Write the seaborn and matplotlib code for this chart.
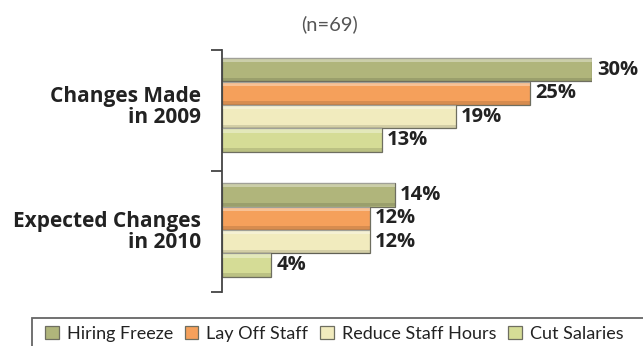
import matplotlib
matplotlib.use("Agg")
import matplotlib.pyplot as plt
from matplotlib.patches import Patch, Rectangle
import seaborn as sns
import pandas as pd

# Survey data (percent of respondents, n=69)
periods = ["Changes Made\nin 2009", "Expected Changes\nin 2010"]
actions = ["Hiring Freeze", "Lay Off Staff", "Reduce Staff Hours", "Cut Salaries"]
made_2009 = [30, 25, 19, 13]
expected_2010 = [14, 12, 12, 4]
colors = ["#B0B57B", "#F5A05B", "#F1EBBE", "#D5DC96"]

rows = []
for period, values in zip(periods, [made_2009, expected_2010]):
    for action, v in zip(actions, values):
        rows.append({"period": period, "action": action, "pct": v})
df = pd.DataFrame(rows)

sns.set_theme(style="white")
plt.rcParams["font.family"] = ["Lato", "DejaVu Sans"]
BOLD_FONT = ["Open Sans", "DejaVu Sans"]

W, H = 643, 346
fig = plt.figure(figsize=(W / 100, H / 100), dpi=100)
ax = fig.add_axes([222 / W, (H - 292) / H, 370 / W, 242 / H])

sns.barplot(data=df, y="period", x="pct", hue="action", orient="h",
            palette=colors, hue_order=actions, order=periods,
            width=0.752, edgecolor="#6E6E60", linewidth=0.9,
            saturation=1, legend=False, ax=ax)

# soft bevel: light strip along the top, darker strip along the bottom
for p in list(ax.patches):
    x0, y0 = p.get_x(), p.get_y()
    w, h = p.get_width(), p.get_height()
    ax.add_patch(Rectangle((x0, y0), w, h * 0.18, facecolor="white",
                           alpha=0.35, linewidth=0, zorder=p.get_zorder() + 0.1))
    ax.add_patch(Rectangle((x0, y0 + h * 0.84), w, h * 0.16, facecolor="black",
                           alpha=0.12, linewidth=0, zorder=p.get_zorder() + 0.1))

for cont in ax.containers:
    ax.bar_label(cont, fmt="%g%%", padding=3.5, fontsize=14.5, fontweight="bold",
                 color="#222222", family=BOLD_FONT)

ax.set_xlim(0, 30)
ax.set_ylim(1.496, -0.44)
ax.set_xlabel("")
ax.set_ylabel("")
ax.set_xticks([])

ax.set_yticks([-0.44, 0.528, 1.496], labels=["", "", ""])
ax.set_yticks([0, 1], labels=periods, minor=True)
ax.tick_params(axis="y", which="major", direction="out", length=8, width=1.3,
               color="#444444", left=True)
ax.tick_params(axis="y", which="minor", length=0, pad=15, labelsize=15,
               labelcolor="#222222")
for lab in ax.get_yticklabels(minor=True):
    lab.set_fontweight("bold")
    lab.set_family(BOLD_FONT)
    lab.set_linespacing(0.95)

for s in ["top", "right", "bottom"]:
    ax.spines[s].set_visible(False)
ax.spines["left"].set_color("#444444")
ax.spines["left"].set_linewidth(1.3)

fig.text(330 / W, 1 - 24 / H, "(n=69)", ha="center", va="center",
         fontsize=14.5, color="#555555")

# legend box running off the lower right edge
fig.patches.append(Rectangle((32 / W, -0.2), 1.0, (H - 318) / H + 0.2,
                             transform=fig.transFigure, fill=False,
                             edgecolor="#666666", linewidth=1.3))
handles = [Patch(facecolor=c, edgecolor="#6E6E60", linewidth=0.9) for c in colors]
fig.legend(handles, actions, ncol=4, loc="center left",
           bbox_to_anchor=(45 / W, 1 - 334 / H), frameon=False,
           fontsize=13.0, handlelength=0.75, handleheight=0.75,
           handletextpad=0.45, columnspacing=0.65, borderpad=0,
           borderaxespad=0, labelcolor="#222222")

fig.savefig("out.png", dpi=100)
